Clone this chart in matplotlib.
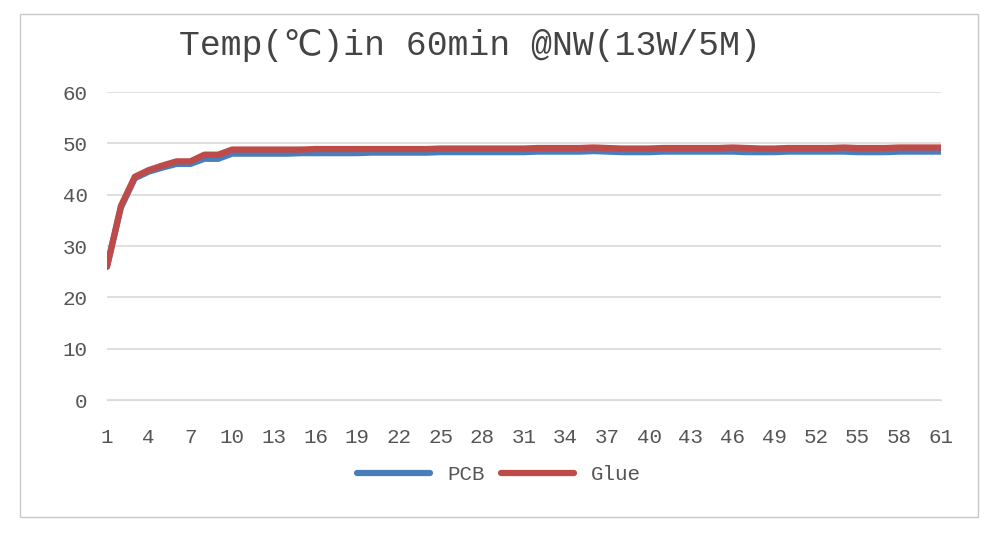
import numpy as np
import matplotlib
matplotlib.use("Agg")
import matplotlib.pyplot as plt
from matplotlib.patches import Rectangle

plt.rcParams['font.family'] = ['Liberation Mono', 'DejaVu Sans']

minutes = np.arange(1, 62)
pcb = [26, 37.5, 43.2, 44.5, 45.3, 46.0, 46.0, 47.0, 47.0, 48.0,
       48.0, 48.0, 48.0, 48.0, 48.1, 48.1, 48.1, 48.1, 48.1, 48.2,
       48.2, 48.2, 48.2, 48.2, 48.3, 48.3, 48.3, 48.3, 48.3, 48.3,
       48.3, 48.4, 48.4, 48.4, 48.4, 48.5, 48.4, 48.3, 48.3, 48.3,
       48.4, 48.4, 48.4, 48.4, 48.4, 48.4, 48.3, 48.3, 48.3, 48.4,
       48.4, 48.4, 48.4, 48.4, 48.3, 48.3, 48.3, 48.4, 48.4, 48.4, 48.4]
glue = [26, 37.8, 43.5, 44.8, 45.7, 46.5, 46.5, 47.8, 47.8, 48.8,
        48.8, 48.8, 48.8, 48.8, 48.8, 48.9, 48.9, 48.9, 48.9, 48.9,
        48.9, 48.9, 48.9, 48.9, 49.0, 49.0, 49.0, 49.0, 49.0, 49.0,
        49.0, 49.1, 49.1, 49.1, 49.1, 49.2, 49.1, 49.0, 49.0, 49.0,
        49.1, 49.1, 49.1, 49.1, 49.1, 49.2, 49.1, 49.0, 49.0, 49.1,
        49.1, 49.1, 49.1, 49.2, 49.1, 49.1, 49.1, 49.2, 49.2, 49.2, 49.2]

fig = plt.figure(figsize=(10, 5.35), dpi=100)
fig.patches.append(Rectangle((0.02, 0.033), 0.958, 0.94, transform=fig.transFigure,
                             fill=False, edgecolor='#c8c8c8', lw=1))
ax = fig.add_axes([0.107, 0.252, 0.834, 0.576])

ax.plot(minutes, pcb, color='#4a7ebb', lw=4.5, label='PCB', solid_capstyle='round')
ax.plot(minutes, glue, color='#be4b48', lw=4.5, label='Glue', solid_capstyle='round')

ax.set_xlim(1, 61)
ax.set_ylim(0, 60)
ax.set_yticks(range(0, 61, 10))
ax.set_xticks(range(1, 62, 3))
ax.grid(axis='y', color='#d9d9d9', lw=1.2)
ax.set_axisbelow(True)
for s in ['top', 'right', 'left']:
    ax.spines[s].set_visible(False)
ax.spines['bottom'].set_color('#d9d9d9')
ax.tick_params(length=0, labelsize=15, colors='#555555')
ax.tick_params(axis='x', pad=20)
ax.tick_params(axis='y', pad=14)

fig.text(0.47, 0.915, 'Temp(℃)in 60min @NW(13W/5M)', ha='center', va='center',
         fontsize=25, color='#444444')
ax.legend(loc='upper center', bbox_to_anchor=(0.47, -0.15), ncol=2, frameon=False,
          fontsize=15, handlelength=3.5, labelcolor='#555555', columnspacing=0.8)

fig.savefig('out.png')
